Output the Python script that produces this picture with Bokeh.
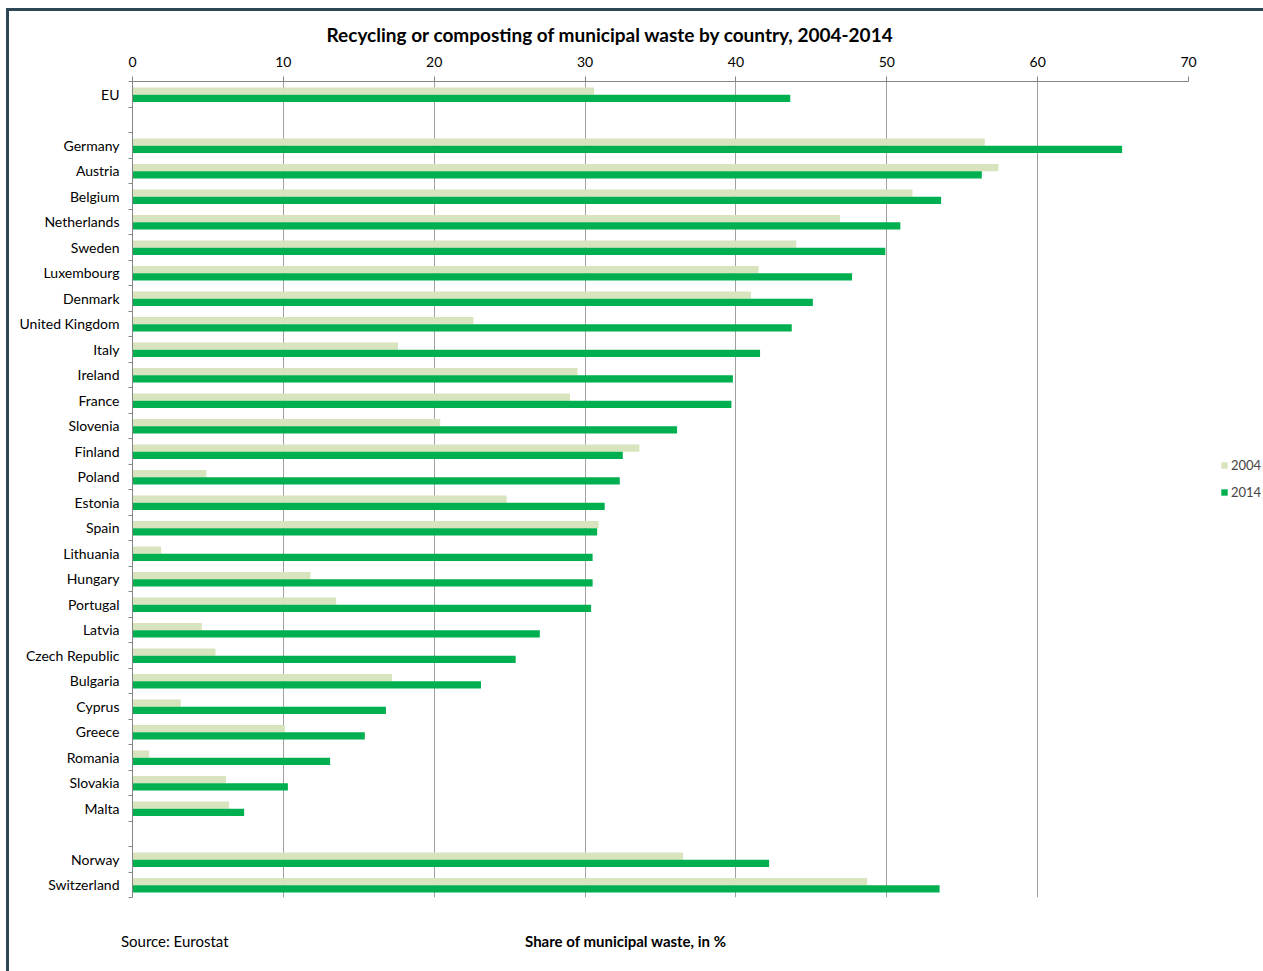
from bokeh.plotting import figure
from bokeh.models import (ColumnDataSource, Range1d, FixedTicker, Legend, LegendItem,
                          LinearAxis)
from bokeh.transform import dodge
from bokeh.embed import file_html
from bokeh.resources import INLINE

# ---- data ----
countries = ["EU", "", "Germany", "Austria", "Belgium", "Netherlands", "Sweden",
             "Luxembourg", "Denmark", "United Kingdom", "Italy", "Ireland", "France",
             "Slovenia", "Finland", "Poland", "Estonia", "Spain", "Lithuania", "Hungary",
             "Portugal", "Latvia", "Czech Republic", "Bulgaria", "Cyprus", "Greece",
             "Romania", "Slovakia", "Malta", "", "Norway", "Switzerland"]
v2004 = [30.6, None, 56.5, 57.4, 51.7, 46.9, 44.0, 41.5, 41.0, 22.6, 17.6, 29.5, 29.0,
         20.4, 33.6, 4.9, 24.8, 30.9, 1.9, 11.8, 13.5, 4.6, 5.5, 17.2, 3.2, 10.1,
         1.1, 6.2, 6.4, None, 36.5, 48.7]
v2014 = [43.6, None, 65.6, 56.3, 53.6, 50.9, 49.9, 47.7, 45.1, 43.7, 41.6, 39.8, 39.7,
         36.1, 32.5, 32.3, 31.3, 30.8, 30.5, 30.5, 30.4, 27.0, 25.4, 23.1, 16.8, 15.4,
         13.1, 10.3, 7.4, None, 42.2, 53.5]
x_ticks = [0, 10, 20, 30, 40, 50, 60, 70]
series_names = ["2004", "2014"]
colors = ["#d7e4bd", "#00b050"]
title_text = "Recycling or composting of municipal waste by country, 2004-2014"
axis_title = "Share of municipal waste, in %"
source_text = "Source: Eurostat"

FONT = "Lato"

rows = [i for i, c in enumerate(countries) if c]
src = ColumnDataSource(dict(
    y=rows,
    a=[v2004[i] for i in rows],
    b=[v2014[i] for i in rows],
))

n = len(countries)
p = figure(frame_width=1056, frame_height=816, output_backend="svg", toolbar_location=None,
           x_axis_location="above", y_axis_location="left",
           x_range=Range1d(0, 70), y_range=Range1d(n - 0.5, -0.5),
           min_border_left=123, min_border_right=75, min_border_top=70,
           min_border_bottom=74)
p.styles = {"margin-left": "6px", "margin-top": "8px",
            "border-top": "3px solid #2e4756", "border-left": "3px solid #2e4756"}
p.outline_line_color = None
p.background_fill_color = "white"
p.border_fill_color = "white"

r1 = p.hbar(y=dodge("y", -0.12, range=p.y_range), right="a", left=0, height=0.285,
            source=src, fill_color=colors[0], line_color=None)
r2 = p.hbar(y=dodge("y", 0.165, range=p.y_range), right="b", left=0, height=0.285,
            source=src, fill_color=colors[1], line_color=None)

# title
p.title.text = title_text
p.title.text_font = FONT
p.title.text_font_style = "bold"
p.title.text_font_size = "19px"
p.title.align = "left"
p.title.offset = 194
p.title.standoff = 15
p.title.text_color = "#000000"

# x axis (top)
xa = p.xaxis[0]
xa.ticker = FixedTicker(ticks=x_ticks, minor_ticks=[])
xa.axis_line_color = "#868686"
xa.major_tick_line_color = "#868686"
xa.major_tick_out = 5
xa.major_tick_in = 0
xa.minor_tick_line_color = None
xa.major_label_text_font = FONT
xa.major_label_text_font_size = "14px"
xa.major_label_text_color = "#000000"
xa.major_label_standoff = 10

# y axis (left)
ya = p.yaxis[0]
ya.ticker = FixedTicker(ticks=rows, minor_ticks=[i - 0.5 for i in range(n + 1)])
ya.major_label_overrides = {i: countries[i] for i in rows}
ya.axis_line_color = "#868686"
ya.major_tick_line_color = None
ya.major_tick_out = 0
ya.minor_tick_line_color = "#868686"
ya.minor_tick_out = 4
ya.minor_tick_in = 0
ya.major_label_text_font = FONT
ya.major_label_text_font_size = "14px"
ya.major_label_text_color = "#000000"
ya.major_label_standoff = 9

p.xgrid.ticker = FixedTicker(ticks=x_ticks)
p.xgrid.grid_line_color = "#a0a0a0"
p.ygrid.grid_line_color = None

# bottom texts as tick labels of unlined axes
def text_axis(pos, text, bold, size, standoff):
    ax = LinearAxis(ticker=FixedTicker(ticks=[pos], minor_ticks=[]),
                    major_label_overrides={pos: text},
                    axis_line_color=None, major_tick_line_color=None,
                    minor_tick_line_color=None, major_tick_out=0, major_tick_in=0,
                    major_label_standoff=standoff, major_label_text_font=FONT,
                    major_label_text_font_size=size,
                    major_label_text_font_style="bold" if bold else "normal",
                    major_label_text_color="#000000")
    p.add_layout(ax, "below")
    return ax

text_axis(32.7, axis_title, True, "15px", 34)
text_axis(2.8, source_text, False, "15px", -21)

legend = Legend(items=[LegendItem(label=series_names[0], renderers=[r1]),
                       LegendItem(label=series_names[1], renderers=[r2])],
                location=(32, 397), padding=0, margin=0, spacing=11,
                glyph_width=8, glyph_height=8, label_standoff=3,
                label_text_font=FONT, label_text_font_size="13px",
                border_line_color=None, background_fill_alpha=0)
p.add_layout(legend, "right")

open("out.html", "w").write(file_html(p, INLINE))
